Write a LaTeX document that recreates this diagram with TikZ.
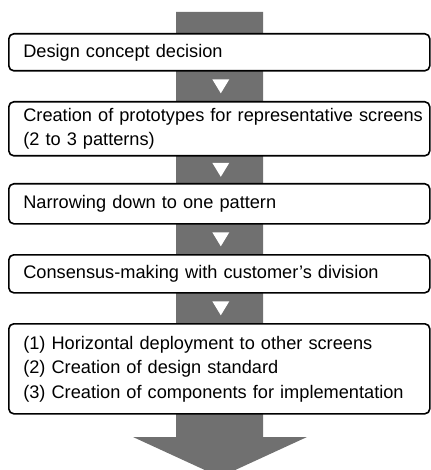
\documentclass[tikz,border=0pt]{standalone}
\usepackage{fontspec}
\setmainfont{Liberation Sans}
\usetikzlibrary{calc}
\definecolor{bargray}{RGB}{112,112,112}
\begin{document}
\begin{tikzpicture}[x=1pt,y=-1pt,
        stepbox/.style={draw, line width=1.6pt, rounded corners=5pt, fill=white,
            anchor=north west, text width=392pt, inner xsep=14.5pt, inner ysep=0pt,
            align=left, font=\fontsize{18.2}{24.5}\selectfont},
        pointer/.style={fill=white}]

                    \useasboundingbox (0,0) rectangle (430,470);

                    \fill[bargray] (176,12) -- (263,12) -- (263,437) -- (307,437) -- (220,477)
                        -- (133,437) -- (176,437) -- cycle;

                    \node[stepbox, minimum height=37pt] (b1) at (8,33) {Design concept decision};
                    \node[stepbox, minimum height=54pt] (b2) at (8,101) {\mbox{Creation of prototypes for representative screens}\\(2 to 3 patterns)};
                    \node[stepbox, minimum height=40pt] (b3) at (8,183) {Narrowing down to one pattern};
                    \node[stepbox, minimum height=38pt] (b4) at (8,254) {Consensus-making with customer’s division};
                    \node[stepbox, minimum height=90pt] (b5) at (8,323) {(1) Horizontal deployment to other screens\\(2) Creation of design standard\\(3) Creation of components for implementation};

                    \foreach \a/\b in {b1/b2,b2/b3,b3/b4,b4/b5}
                        \fill[pointer] ($(\a.south)!0.5!(\b.north)$) ++(-7,-7) -- ++(17,0) -- ++(-8.5,14) -- cycle;
                \end{tikzpicture}
\end{document}
